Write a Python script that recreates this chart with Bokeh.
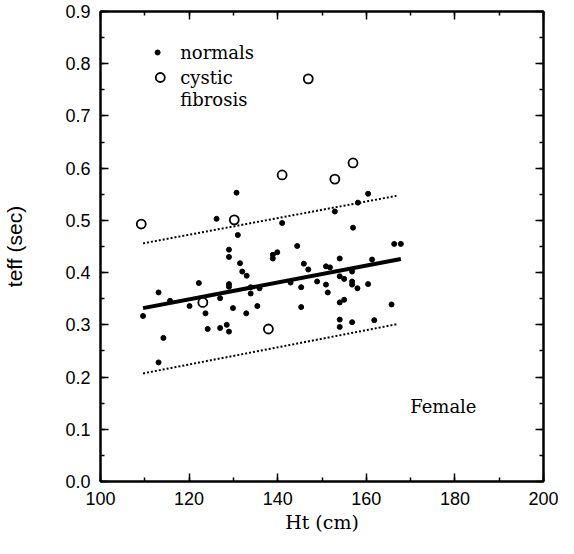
from bokeh.plotting import figure
from bokeh.models import SingleIntervalTicker, LinearAxis, Label, NumeralTickFormatter, Range1d
from bokeh.core.properties import value
from bokeh.embed import file_html
from bokeh.resources import INLINE

# ---- data ----
normals_ht = [109.6, 113.1, 114.2, 113.1, 115.7, 120.1, 122.2, 123.7, 124.2, 126.2,
              130.7, 131.0, 129.0, 129.0, 131.5, 132.0, 133.0, 129.0, 129.0, 127.0,
              129.9, 132.9, 133.9, 133.9, 135.9, 135.4, 127.0, 128.5, 129.0, 141.0,
              138.9, 139.9, 138.9, 144.4, 142.9, 145.3, 145.3, 160.4, 158.1, 152.9,
              157.0, 166.3, 167.8, 145.9, 146.9, 150.9, 151.8, 154.0, 161.3, 148.9,
              150.9, 151.3, 154.0, 155.0, 156.8, 156.8, 156.8, 158.0, 160.4, 154.0,
              155.0, 165.7, 154.0, 154.0, 156.8, 161.8]
normals_teff = [0.317, 0.362, 0.275, 0.228, 0.346, 0.336, 0.380, 0.322, 0.292, 0.503,
                0.553, 0.472, 0.444, 0.430, 0.418, 0.402, 0.394, 0.378, 0.373, 0.351,
                0.332, 0.322, 0.360, 0.372, 0.370, 0.336, 0.294, 0.300, 0.287, 0.495,
                0.434, 0.439, 0.427, 0.451, 0.381, 0.372, 0.334, 0.551, 0.534, 0.517,
                0.486, 0.455, 0.455, 0.417, 0.406, 0.412, 0.410, 0.427, 0.425, 0.383,
                0.377, 0.362, 0.393, 0.388, 0.402, 0.383, 0.377, 0.370, 0.378, 0.343,
                0.348, 0.339, 0.310, 0.296, 0.305, 0.309]

cf_ht = [109.2, 123.1, 130.2, 137.9, 141.0, 146.9, 152.9, 157.0]
cf_teff = [0.493, 0.343, 0.501, 0.292, 0.587, 0.771, 0.579, 0.610]

fit_ht = [109.6, 167.8]
fit_teff = [0.332, 0.426]
upper_ht = [109.6, 166.8]
upper_teff = [0.456, 0.547]
lower_ht = [109.6, 166.8]
lower_teff = [0.207, 0.301]

legend_ht = [112.9, 113.5]
legend_teff = [0.8215, 0.7736]
legend_text_ht = [118.0, 118.0, 118.0]
legend_text_teff = [0.8215, 0.7736, 0.732]
legend_texts = ["normals", "cystic", "fibrosis"]

x_ticks_interval = 20
y_ticks_interval = 0.1

SERIF = "DejaVu Serif"
SANS = "Liberation Sans"

p = figure(width=558, height=538, x_range=Range1d(100, 200), y_range=Range1d(0, 0.9),
           output_backend="svg", toolbar_location=None,
           min_border_left=98, min_border_right=15, min_border_top=11, min_border_bottom=57)
p.grid.visible = False
p.outline_line_color = "black"
p.outline_line_width = 2
p.background_fill_color = "white"
p.border_fill_color = "white"

bottom = p.below[0]
left = p.left[0]
bottom.ticker = SingleIntervalTicker(interval=x_ticks_interval, num_minor_ticks=2)
left.ticker = SingleIntervalTicker(interval=y_ticks_interval, num_minor_ticks=2)
left.formatter = NumeralTickFormatter(format="0.0")

top = LinearAxis(ticker=SingleIntervalTicker(interval=x_ticks_interval, num_minor_ticks=2),
                 major_label_text_font_size="1px", major_label_text_color=None,
                 major_label_standoff=0)
right = LinearAxis(ticker=SingleIntervalTicker(interval=y_ticks_interval, num_minor_ticks=2),
                   major_label_text_font_size="1px", major_label_text_color=None,
                   major_label_standoff=0)
p.add_layout(top, "above")
p.add_layout(right, "right")

for ax in [bottom, left, top, right]:
    ax.axis_line_color = "black"
    ax.axis_line_width = 2
    ax.major_tick_in = 8
    ax.major_tick_out = 0
    ax.minor_tick_in = 4
    ax.minor_tick_out = 0
    ax.major_tick_line_color = "black"
    ax.major_tick_line_width = 1.5
    ax.minor_tick_line_color = "black"
    ax.minor_tick_line_width = 1.5

for ax in [bottom, left]:
    ax.major_label_text_font = SANS
    ax.major_label_text_font_size = "18px"
    ax.major_label_text_color = "black"
    ax.major_label_standoff = 10

bottom.axis_label = "Ht (cm)"
bottom.axis_label_text_font = SERIF
bottom.axis_label_text_font_size = "19px"
bottom.axis_label_text_font_style = "normal"
bottom.axis_label_text_color = "black"
bottom.axis_label_standoff = 3

left.axis_label = "teff (sec)"
left.axis_label_text_font = SANS
left.axis_label_text_font_size = "21px"
left.axis_label_text_font_style = "normal"
left.axis_label_text_color = "black"
left.axis_label_standoff = 36

# regression line and limits
p.line(fit_ht, fit_teff, line_color="black", line_width=4)
p.line(upper_ht, upper_teff, line_color="black", line_width=2, line_dash="2 2")
p.line(lower_ht, lower_teff, line_color="black", line_width=2, line_dash="2 2")

# data
p.scatter(normals_ht, normals_teff, marker="circle", size=5, fill_color="black", line_color="black")
p.scatter(cf_ht, cf_teff, marker="circle", size=9, fill_color="white", line_color="black", line_width=1.8)

# key
p.scatter(legend_ht[:1], legend_teff[:1], marker="circle", size=5, fill_color="black", line_color="black")
p.scatter(legend_ht[1:], legend_teff[1:], marker="circle", size=9, fill_color="white", line_color="black", line_width=1.8)
p.text(legend_text_ht, legend_text_teff, text=legend_texts, text_font=value(SERIF),
       text_font_size="18px", text_baseline="middle", text_align="left", text_color="black")

p.add_layout(Label(x=169.9, y=0.143, text="Female", text_font=SERIF, text_font_size="18px",
                   text_baseline="middle", text_align="left", text_color="black"))

open("out.html", "w").write(file_html(p, INLINE))
